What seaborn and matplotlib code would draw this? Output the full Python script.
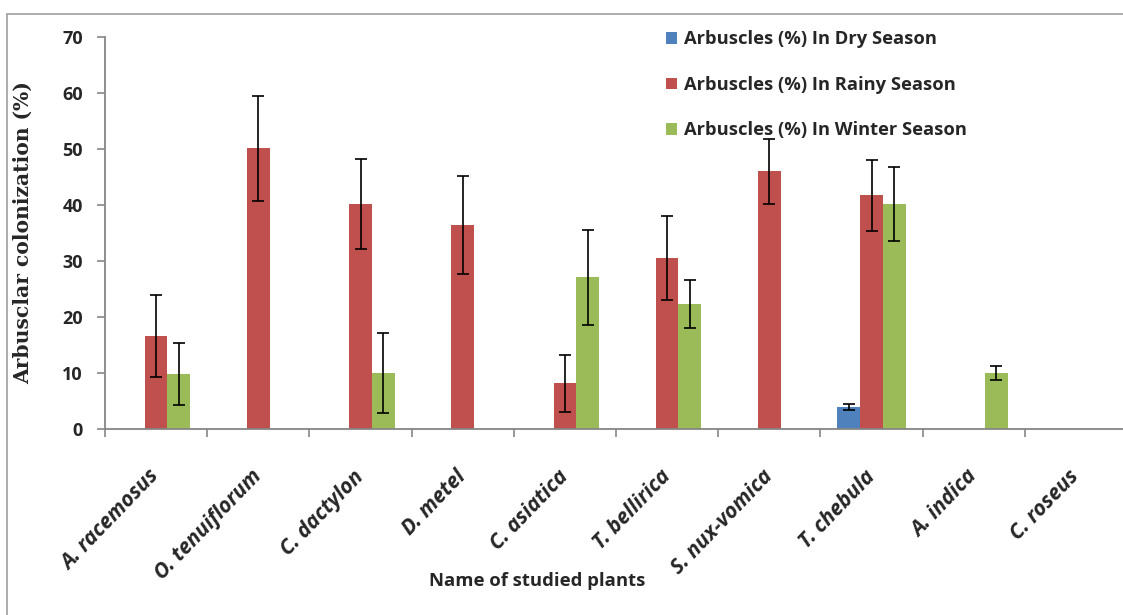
import matplotlib
matplotlib.use("Agg")
import matplotlib.pyplot as plt
import seaborn as sns
import pandas as pd
import numpy as np
from matplotlib.patches import Rectangle

# Plant species on the x axis
plants = ["A. racemosus", "O. tenuiflorum", "C. dactylon", "D. metel", "C. asiatica",
          "T. bellirica", "S. nux-vomica", "T. chebula", "A. indica", "C. roseus"]

seasons = ["Arbuscles (%) In Dry Season",
           "Arbuscles (%) In Rainy Season",
           "Arbuscles (%) In Winter Season"]

# Mean arbuscular colonization (%) per season
dry = [0, 0, 0, 0, 0, 0, 0, 3.9, 0, 0]
rainy = [16.6, 50.1, 40.2, 36.4, 8.2, 30.6, 46.0, 41.7, 0, 0]
winter = [9.8, 0, 10.0, 0, 27.1, 22.3, 0, 40.1, 10.0, 0]

# Standard deviations
dry_err = [0, 0, 0, 0, 0, 0, 0, 0.5, 0, 0]
rainy_err = [7.3, 9.3, 8.0, 8.7, 5.1, 7.5, 5.8, 6.3, 0, 0]
winter_err = [5.6, 0, 7.2, 0, 8.5, 4.3, 0, 6.6, 1.2, 0]

colors = ["#4F81BD", "#C0504D", "#9BBB59"]

df = pd.DataFrame({
    "plant": plants * 3,
    "season": np.repeat(seasons, len(plants)),
    "value": dry + rainy + winter,
})
errs = [dry_err, rainy_err, winter_err]

sns.set_style("white")
plt.rcParams["font.family"] = ["Open Sans", "DejaVu Sans"]

fig = plt.figure(figsize=(11.23, 6.15), dpi=100)
ax = fig.add_axes([105 / 1123, 1 - 429 / 615, 1022 / 1123, 392 / 615])

sns.barplot(data=df, x="plant", y="value", hue="season", hue_order=seasons,
            order=plants, palette=colors, errorbar=None, width=0.667,
            linewidth=0, saturation=1, ax=ax)

# Error bars at the centre of each drawn bar
for cont, err, vals in zip(ax.containers, errs, [dry, rainy, winter]):
    for bar, e, v in zip(cont, err, vals):
        if e > 0:
            xc = bar.get_x() + bar.get_width() / 2
            ax.errorbar(xc, v, yerr=e, fmt="none", ecolor="black",
                        elinewidth=1.2, capsize=4.3, capthick=1.2, zorder=5)

ax.set_xlim(-0.5, len(plants) - 0.5)
ax.set_ylim(0, 70)
ax.set_yticks(range(0, 71, 10))

grey = "#868686"
for side in ["top", "right"]:
    ax.spines[side].set_visible(False)
for side in ["left", "bottom"]:
    ax.spines[side].set_color(grey)
    ax.spines[side].set_linewidth(1.3)

ax.tick_params(axis="y", direction="out", length=6, width=1.2, color=grey,
               labelsize=13, pad=10, left=True)
for lbl in ax.get_yticklabels():
    lbl.set_fontweight("bold")

# Category boundary ticks below the axis, labels at category centres
ax.set_xticks(np.arange(-0.5, len(plants), 1.0), minor=True)
ax.tick_params(axis="x", which="minor", direction="out", length=6, width=1.2,
               color=grey, bottom=True)
ax.tick_params(axis="x", which="major", length=0, pad=32)
ax.set_xticks(range(len(plants)))
ax.set_xticklabels(plants, rotation=46, ha="right", va="center",
                   rotation_mode="anchor",
                   fontsize=15, fontweight="bold", fontstyle="italic")

ax.set_xlabel("Name of studied plants", fontsize=13.3, fontweight="bold")
ax.xaxis.set_label_coords((537 - 105) / 1022, (429 - 572) / 392)
ax.set_ylabel("Arbusclar colonization (%)", fontsize=14.6, fontweight="bold",
              family=["DejaVu Serif"])
ax.yaxis.set_label_coords((33 - 105) / 1022, 0.5)

handles, labels = ax.get_legend_handles_labels()
ax.legend(handles, labels, loc="upper left",
          bbox_to_anchor=(649 / 1123, 1 - 14 / 615), bbox_transform=fig.transFigure,
          frameon=False, handlelength=0.62, handleheight=0.62, handletextpad=0.4,
          labelspacing=1.5, prop={"family": ["Open Sans", "DejaVu Sans"],
                                  "weight": "bold", "size": 13.2})

# Outer chart frame
fig.patches.append(Rectangle((7 / 1123, -0.05), 1.2, 1 - 13.5 / 615 + 0.05,
                             transform=fig.transFigure, fill=False,
                             edgecolor="#a6a6a6", linewidth=1.3))

fig.savefig("out.png", dpi=100)
